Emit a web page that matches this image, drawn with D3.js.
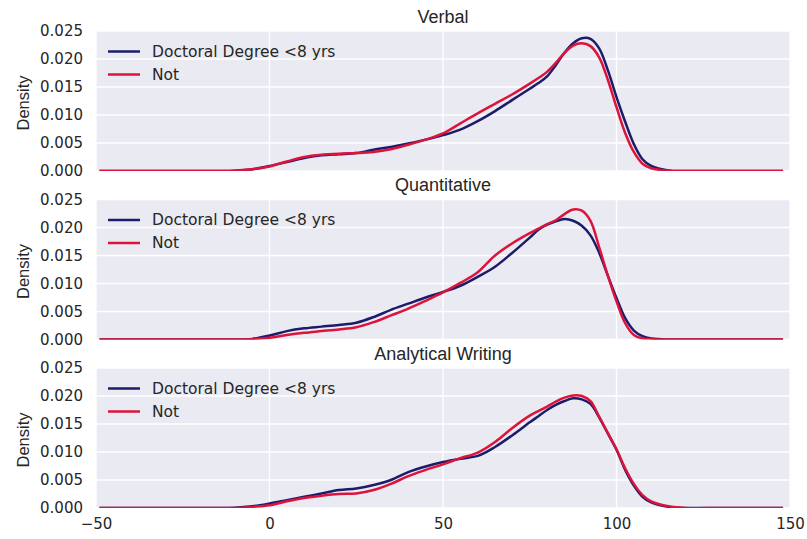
<!DOCTYPE html>
<html><head><meta charset="utf-8">
<script src="https://cdn.jsdelivr.net/npm/d3@7/dist/d3.min.js"></script>
<style>body{margin:0;background:#fff;} svg{display:block;}</style>
</head><body>
<svg id="c" width="807" height="539"></svg>
<script>
const titles = ["Verbal", "Quantitative", "Analytical Writing"];
const seriesNames = ["Doctoral Degree <8 yrs", "Not"];
const xTicks = [-50, 0, 50, 100, 150];
const yTicks = [0, 0.005, 0.010, 0.015, 0.020, 0.025];
const xs = [-49,-40,-30,-20,-15,-10,-5,0,5,10,15,20,25,30,35,40,45,50,55,60,65,70,75,77.5,80,82.5,85,87.5,90,92.5,95,97.5,100,102.5,105,107.5,110,115,120,130,140,148];

const verbalDoc = [0,0,0,0,0,0.00005,0.0003,0.0009,0.0016,0.0023,0.0028,0.0030,0.0032,0.0038,0.0043,0.0049,0.0056,0.0064,0.0074,0.0089,0.0107,0.0127,0.0147,0.0157,0.0169,0.0189,0.0211,0.0228,0.0237,0.0236,0.0219,0.0180,0.0132,0.0088,0.0048,0.0021,0.0009,0.0001,0,0,0,0];
const verbalNot = [0,0,0,0,0,0.00005,0.0003,0.0008,0.0017,0.0025,0.0029,0.0031,0.0032,0.0034,0.0039,0.0047,0.0056,0.0067,0.0085,0.0103,0.0120,0.0137,0.0156,0.0166,0.0177,0.0193,0.0211,0.0224,0.0228,0.0223,0.0203,0.0163,0.0114,0.0068,0.0034,0.0013,0.0005,0.00005,0,0,0,0];
const quantDoc = [0,0,0,0,0,0,0.0001,0.0007,0.0015,0.0020,0.0023,0.0026,0.0030,0.0040,0.0053,0.0064,0.0075,0.0085,0.0096,0.0112,0.0130,0.0155,0.0182,0.0196,0.0205,0.0211,0.0215,0.0212,0.0203,0.0186,0.0155,0.0114,0.0074,0.0038,0.0016,0.0006,0.0002,0,0,0,0,0];
const quantNot = [0,0,0,0,0,0,0.00005,0.0003,0.0008,0.0012,0.0015,0.0018,0.0022,0.0031,0.0043,0.0055,0.0069,0.0084,0.0101,0.0120,0.0150,0.0172,0.0190,0.0198,0.0206,0.0213,0.0224,0.0232,0.0230,0.0212,0.0165,0.0114,0.0068,0.0029,0.0008,0.0002,0.00005,0,0,0,0,0];
const awDoc = [0,0,0,0,0,0.00005,0.0003,0.0008,0.0014,0.0020,0.0026,0.0032,0.0035,0.0041,0.0050,0.0064,0.0074,0.0082,0.0088,0.0093,0.0109,0.0130,0.0153,0.0164,0.0175,0.0184,0.0191,0.0196,0.0194,0.0186,0.0162,0.0133,0.0104,0.0068,0.0040,0.0020,0.0010,0.0002,0,0,0,0];
const awNot = [0,0,0,0,0,0,0.0002,0.0005,0.0012,0.0018,0.0022,0.0025,0.0026,0.0032,0.0043,0.0057,0.0068,0.0078,0.0089,0.0099,0.0118,0.0143,0.0165,0.0173,0.0181,0.0190,0.0197,0.0201,0.0200,0.0191,0.0163,0.0134,0.0105,0.0071,0.0043,0.0023,0.0012,0.0003,0,0,0,0];

const panels = [[verbalDoc, verbalNot],[quantDoc, quantNot],[awDoc, awNot]];
const colors = ["#1c1c6b", "#dc143c"];

const svg = d3.select("#c");
const left = 96, right = 790, ph = 140;
const tops = [31, 199.5, 368];
const x = d3.scaleLinear().domain([-50,150]).range([left,right]);
const tickFont = "'DejaVu Sans', sans-serif";
const txtColor = "#262626";

panels.forEach((series, i) => {
  const top = tops[i];
  const y = d3.scaleLinear().domain([0,0.025]).range([top+ph, top]);
  const g = svg.append("g");
  g.append("rect").attr("x", left).attr("y", top).attr("width", right-left).attr("height", ph).attr("fill", "#eaeaf2");
  g.append("clipPath").attr("id","clip"+i).append("rect").attr("x", left).attr("y", top).attr("width", right-left).attr("height", ph);
  g.selectAll(".gx").data(xTicks).enter().append("line")
    .attr("x1", d=>x(d)).attr("x2", d=>x(d)).attr("y1", top).attr("y2", top+ph)
    .attr("stroke","#fff").attr("stroke-width",1.3);
  g.selectAll(".gy").data(yTicks).enter().append("line")
    .attr("x1", left).attr("x2", right).attr("y1", d=>y(d)).attr("y2", d=>y(d))
    .attr("stroke","#fff").attr("stroke-width",1.3);
  const ya = d3.axisLeft(y).tickValues(yTicks).tickFormat(d3.format(".3f")).tickSize(0).tickPadding(13);
  const yg = g.append("g").attr("transform", `translate(${left},0)`).call(ya);
  yg.select(".domain").remove();
  yg.selectAll("text").attr("font-family", tickFont).attr("font-size", 15).attr("fill", txtColor);
  if (i === 2) {
    const xa = d3.axisBottom(x).tickValues(xTicks).tickFormat(d => d < 0 ? "\u2212" + Math.abs(d) : d).tickSize(0).tickPadding(10);
    const xg = g.append("g").attr("transform", `translate(0,${top+ph})`).call(xa);
    xg.select(".domain").remove();
    xg.selectAll("text").attr("font-family", tickFont).attr("font-size", 15).attr("fill", txtColor);
  }
  const line = d3.line().x((d,j)=>x(xs[j])).y(d=>y(d)).curve(d3.curveCatmullRom.alpha(0.5));
  series.forEach((s, k) => {
    g.append("path").datum(s).attr("d", line).attr("fill","none")
      .attr("stroke", colors[k]).attr("stroke-width", 2.5).attr("stroke-linejoin","round").attr("clip-path", `url(#clip${i})`);
  });
  g.append("text").attr("x", (left+right)/2).attr("y", top-8.5).attr("text-anchor","middle")
    .attr("font-family","'Liberation Sans', Arial, sans-serif").attr("font-size",18).attr("fill",txtColor).text(titles[i]);
  g.append("text").attr("transform", `translate(29,${top+ph/2+2}) rotate(-90)`).attr("text-anchor","middle")
    .attr("font-family","'Liberation Sans', Arial, sans-serif").attr("font-size",16.5).attr("fill",txtColor).text("Density");
  seriesNames.forEach((n, k) => {
    const ly = top + 20.5 + k*23;
    g.append("line").attr("x1",108).attr("x2",140).attr("y1",ly).attr("y2",ly).attr("stroke",colors[k]).attr("stroke-width",2.5);
    g.append("text").attr("x",152).attr("y",ly).attr("dominant-baseline","central")
      .attr("font-family",tickFont).attr("font-size",15.5).attr("fill",txtColor).text(n);
  });
});
</script>
</body></html>
